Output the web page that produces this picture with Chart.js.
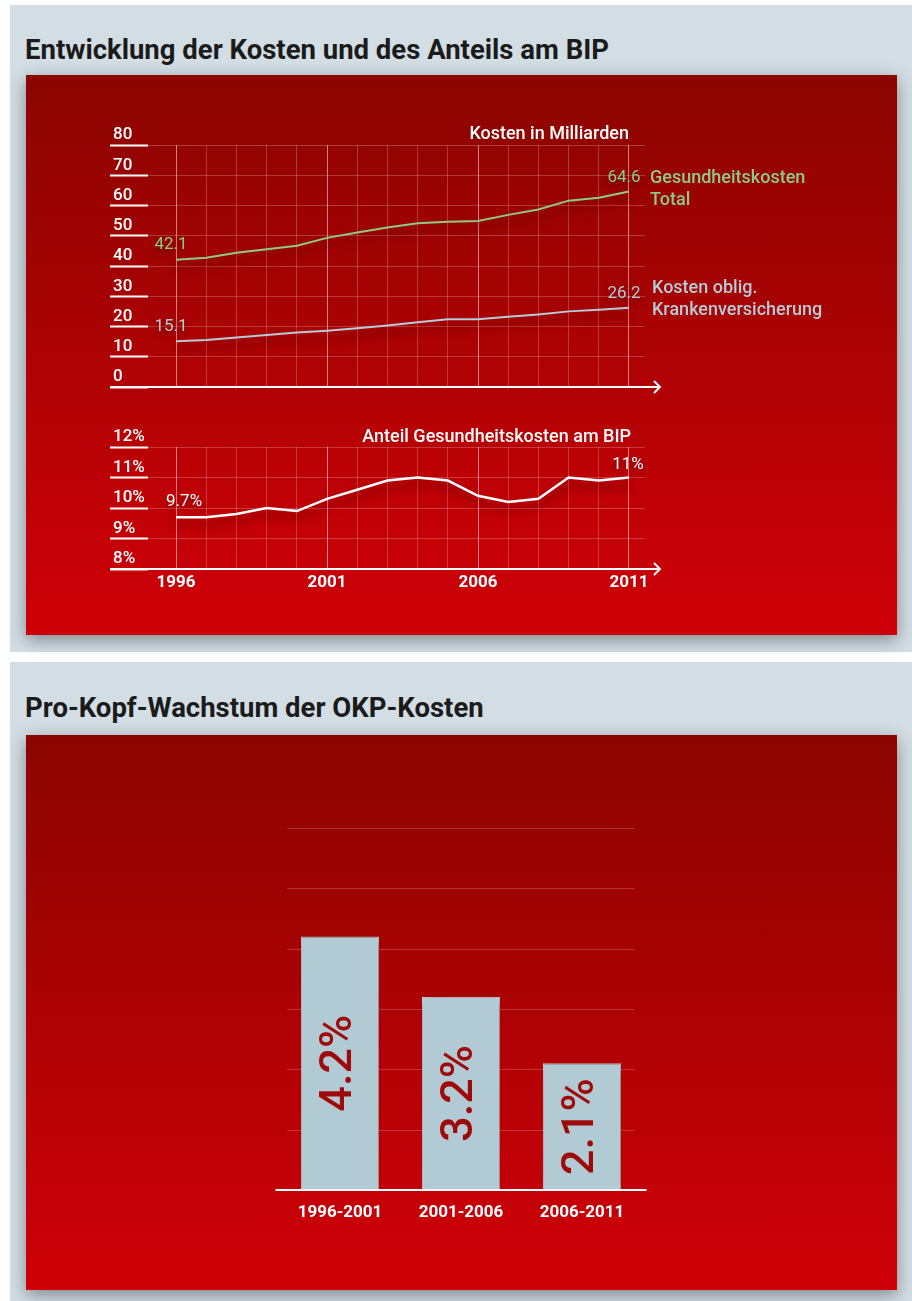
<!DOCTYPE html>
<html lang="de">
<head>
<meta charset="utf-8">
<title>Gesundheitskosten</title>
<script src="https://cdn.jsdelivr.net/npm/chart.js@4.4.1/dist/chart.umd.min.js"></script>
<style>
  body { margin: 0; background: #fff; width: 912px; height: 1301px; position: relative; overflow: hidden;
         font-family: Roboto, sans-serif; }
  .panel { position: absolute; left: 10px; width: 902px; background: #d2dee4; }
  .red { position: absolute; left: 26px; width: 871px;
         background: linear-gradient(#8b0400, #cf0008); box-shadow: 0 5px 16px rgba(30,30,40,.45); }
  .red canvas { position: absolute; left: 0; }
  h2 { position: absolute; left: 25px; margin: 0; font-size: 27.5px; line-height: 30px; font-weight: bold; color: #1b1b1b; }
  .lab { position: absolute; font-weight: 500; font-size: 18px; line-height: 22px; color: #fff; white-space: nowrap; }
</style>
</head>
<body>
<div class="panel" style="top:5px;height:647px"></div>
<div class="panel" style="top:662px;height:639px"></div>

<h2 style="top:35px">Entwicklung der Kosten und des Anteils am BIP</h2>
<h2 style="top:693px">Pro-Kopf-Wachstum der OKP-Kosten</h2>

<div class="red" style="top:75px;height:560px">
  <canvas id="costs" width="871" height="330" style="top:0"></canvas>
  <canvas id="share" width="871" height="230" style="top:330px"></canvas>
</div>
<div class="red" style="top:735px;height:555px">
  <canvas id="growth" width="871" height="555" style="top:0"></canvas>
</div>

<div class="lab" style="top:122px;left:0;width:629px;text-align:right">Kosten in Milliarden</div>
<div class="lab" style="top:425px;left:0;width:631px;text-align:right">Anteil Gesundheitskosten am BIP</div>
<div class="lab" style="top:166px;left:650px;color:#8fc98a">Gesundheitskosten<br>Total</div>
<div class="lab" style="top:276px;left:652px;color:#b5cbd6">Kosten oblig.<br>Krankenversicherung</div>

<script>
// --- data ---
const years = [1996, 1997, 1998, 1999, 2000, 2001, 2002, 2003, 2004, 2005, 2006, 2007, 2008, 2009, 2010, 2011];
const totalCosts = [42.1, 42.7, 44.4, 45.5, 46.7, 49.3, 51.1, 52.7, 54.1, 54.6, 54.9, 56.9, 58.7, 61.6, 62.6, 64.6];
const okpCosts = [15.1, 15.5, 16.4, 17.2, 18.0, 18.6, 19.4, 20.3, 21.4, 22.4, 22.4, 23.2, 24.0, 25.0, 25.5, 26.2];
const bipShare = [9.7, 9.7, 9.8, 10.0, 9.9, 10.3, 10.6, 10.9, 11.0, 10.9, 10.4, 10.2, 10.3, 11.0, 10.9, 11.0];
const yearLabels = [1996, 2001, 2006, 2011];

const periods = ["1996-2001", "2001-2006", "2006-2011"];
const growth = [4.2, 3.2, 2.1];

const FONT = "Roboto, sans-serif";
const GREEN = "#8fc98a";
const BLUE = "#b5cbd6";
const GRID = "rgba(255,255,255,0.22)";
const GRID_STRONG = "rgba(255,255,255,0.5)";

function xy(vals) { return years.map((y, i) => ({ x: y, y: vals[i] })); }

// drop shadow under each dataset
const shadowPlugin = {
  id: "shadow",
  beforeDatasetDraw(chart, args, o) {
    const ctx = chart.ctx;
    ctx.save();
    ctx.shadowColor = o.color || "rgba(60,0,0,0.6)";
    ctx.shadowBlur = o.blur ?? 8;
    ctx.shadowOffsetX = o.x ?? 0;
    ctx.shadowOffsetY = o.y ?? 6;
  },
  afterDatasetDraw(chart) { chart.ctx.restore(); }
};

// white x axis line with open arrow head
const arrowAxis = {
  id: "arrowAxis",
  afterDatasetsDraw(chart) {
    const { ctx, chartArea: a } = chart;
    const y = Math.round(a.bottom);
    const end = a.right + 15;
    ctx.save();
    ctx.strokeStyle = "#fff";
    ctx.lineWidth = 2;
    ctx.beginPath();
    ctx.moveTo(a.left - 38, y);
    ctx.lineTo(end, y);
    ctx.moveTo(end - 6, y - 6);
    ctx.lineTo(end, y);
    ctx.lineTo(end - 6, y + 6);
    ctx.stroke();
    ctx.restore();
  }
};

// value labels at first and last point of each line
const endLabels = {
  id: "endLabels",
  afterDatasetsDraw(chart, args, o) {
    const ctx = chart.ctx;
    chart.data.datasets.forEach((ds, i) => {
      const pts = chart.getDatasetMeta(i).data;
      [[0, o.first], [pts.length - 1, o.last]].forEach(([k, off]) => {
        const p = pts[k];
        ctx.save();
        ctx.font = "17px " + FONT;
        ctx.fillStyle = ds.borderColor;
        ctx.textAlign = "center";
        ctx.textBaseline = "middle";
        ctx.shadowColor = "rgba(60,0,0,0.6)";
        ctx.shadowBlur = 6;
        ctx.shadowOffsetY = 3;
        ctx.fillText(ds.data[k].y + (o.suffix || ""), p.x + off[0], p.y + off[1]);
        ctx.restore();
      });
    });
  }
};

function yearGridColor(c) {
  return yearLabels.includes(c.tick.value) ? GRID_STRONG : GRID;
}

function yScale(min, max, step, suffix) {
  return {
    min, max,
    border: { display: false },
    grid: { color: GRID, lineWidth: 1, tickColor: "#fff", tickWidth: 2, tickLength: 38 },
    ticks: {
      stepSize: step,
      color: "#fff",
      crossAlign: "far",
      labelOffset: -10,
      font: { family: FONT, size: 17, weight: "500" },
      callback: v => v + suffix
    },
    afterFit(s) { s.width = 35; }
  };
}

// --- costs (Mrd.) ---
new Chart(document.getElementById("costs"), {
  type: "line",
  data: {
    datasets: [
      { data: xy(totalCosts), borderColor: GREEN, borderWidth: 2, pointRadius: 0, tension: 0 },
      { data: xy(okpCosts), borderColor: BLUE, borderWidth: 2, pointRadius: 0, tension: 0 }
    ]
  },
  options: {
    responsive: false,
    animation: false,
    layout: { padding: { left: 87, right: 252, top: 70, bottom: 18 } },
    plugins: {
      legend: { display: false },
      tooltip: { enabled: false },
      shadow: { color: "rgba(60,0,0,0.55)", blur: 8, y: 7 },
      endLabels: { first: [-5, -15], last: [-5, -14] }
    },
    scales: {
      x: {
        type: "linear", min: 1995.07, max: 2011.53,
        border: { display: false },
        grid: { color: yearGridColor, drawTicks: false },
        ticks: { display: false, stepSize: 1, includeBounds: false },
        afterFit(s) { s.height = 0; }
      },
      y: yScale(0, 80, 10, "")
    }
  },
  plugins: [shadowPlugin, arrowAxis, endLabels]
});

// --- share of GDP ---
new Chart(document.getElementById("share"), {
  type: "line",
  data: {
    datasets: [
      { data: xy(bipShare), borderColor: "#ffffff", borderWidth: 2.5, pointRadius: 0, tension: 0 }
    ]
  },
  options: {
    responsive: false,
    animation: false,
    layout: { padding: { left: 87, right: 252, top: 42, bottom: 0 } },
    plugins: {
      legend: { display: false },
      tooltip: { enabled: false },
      shadow: { color: "rgba(60,0,0,0.55)", blur: 8, y: 7 },
      endLabels: { first: [8, -15], last: [-1, -13], suffix: "%" }
    },
    scales: {
      x: {
        type: "linear", min: 1995.07, max: 2011.53,
        border: { display: false },
        grid: { color: yearGridColor, drawTicks: false },
        ticks: {
          stepSize: 1, includeBounds: false, autoSkip: false, maxRotation: 0, padding: 4,
          color: "#fff", font: { family: FONT, size: 17, weight: "bold" },
          callback: v => yearLabels.includes(v) ? String(v) : ""
        },
        afterFit(s) { s.height = 66; }
      },
      y: yScale(8, 12, 1, "%")
    }
  },
  plugins: [shadowPlugin, arrowAxis, endLabels]
});

// --- per-capita growth bars ---
const barGrid = {
  id: "barGrid",
  beforeDatasetsDraw(chart) {
    const { ctx, chartArea: a, scales: { y } } = chart;
    ctx.save();
    ctx.strokeStyle = "rgba(255,255,255,0.2)";
    ctx.lineWidth = 1;
    y.ticks.forEach(t => {
      if (t.value === 0) return;
      const py = Math.round(y.getPixelForValue(t.value)) + 0.5;
      ctx.beginPath();
      ctx.moveTo(a.left + 8, py);
      ctx.lineTo(a.right - 8, py);
      ctx.stroke();
    });
    ctx.restore();
  },
  afterDatasetsDraw(chart) {
    const { ctx, chartArea: a, scales: { y } } = chart;
    const meta = chart.getDatasetMeta(0);
    const ds = chart.data.datasets[0];
    meta.data.forEach((bar, i) => {
      ctx.save();
      ctx.translate(bar.x, (bar.y + bar.base) / 2);
      ctx.rotate(-Math.PI / 2);
      ctx.font = "500 45px " + FONT;
      ctx.fillStyle = "#9e0a0a";
      ctx.textAlign = "center";
      ctx.textBaseline = "middle";
      ctx.fillText(ds.data[i].toFixed(1) + "%", 0, 0);
      ctx.restore();
    });
    const py = Math.round(y.getPixelForValue(0));
    ctx.save();
    ctx.strokeStyle = "#fff";
    ctx.lineWidth = 2;
    ctx.beginPath();
    ctx.moveTo(a.left - 4, py);
    ctx.lineTo(a.right + 4, py);
    ctx.stroke();
    ctx.restore();
  }
};

new Chart(document.getElementById("growth"), {
  type: "bar",
  data: {
    labels: periods,
    datasets: [{
      data: growth,
      backgroundColor: "#b2cad3",
      borderColor: "#c4d6dd",
      borderWidth: 1,
      categoryPercentage: 1,
      barPercentage: 0.645
    }]
  },
  options: {
    responsive: false,
    animation: false,
    layout: { padding: { left: 253.5, right: 254.5, top: 93, bottom: 0 } },
    plugins: {
      legend: { display: false },
      tooltip: { enabled: false },
      shadow: { color: "rgba(70,0,0,0.55)", blur: 12, x: 3, y: 2 }
    },
    scales: {
      x: {
        border: { display: false },
        grid: { display: false },
        ticks: { color: "#fff", padding: 5, font: { family: FONT, size: 17, weight: "bold" } },
        afterFit(s) { s.height = 100; }
      },
      y: { display: false, min: 0, max: 6, ticks: { stepSize: 1 } }
    }
  },
  plugins: [shadowPlugin, barGrid]
});
</script>
</body>
</html>
